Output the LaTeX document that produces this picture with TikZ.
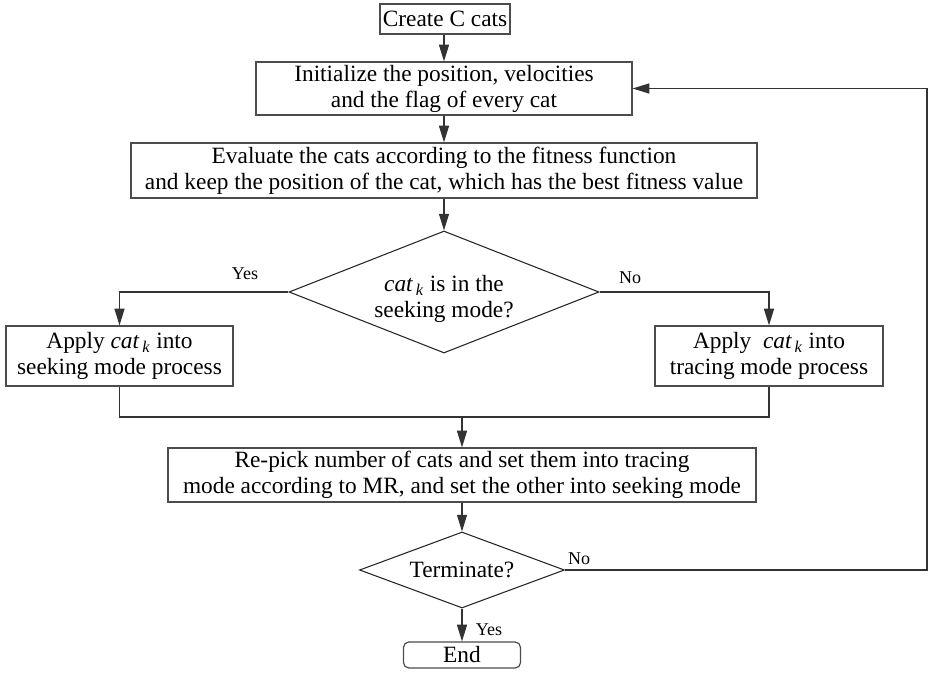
\documentclass[tikz,border=0pt]{standalone}
\usepackage{fontspec}
\setmainfont{Liberation Serif}
\usetikzlibrary{shapes.geometric,arrows.meta}
\newcommand{\catk}{\textit{cat}\textsubscript{\,\textit{k}}}
\begin{document}
\begin{tikzpicture}[x=0.75pt,y=-0.75pt,
  every node/.style={font=\fontsize{17.5}{19.5}\selectfont},
  box/.style={draw=black!70, line width=0.9pt, rectangle, inner sep=0pt, align=center},
  dia/.style={draw=black!85, line width=0.8pt, diamond, inner sep=0pt, align=center, aspect=2.5},
  conn/.style={draw=black!80, line width=0.9pt},
  arr/.style={conn, -{Triangle[length=12.5pt,width=7.5pt]}},
  lbl/.style={inner sep=0pt, font=\fontsize{13.5}{15}\selectfont}]
\useasboundingbox (0,0) rectangle (931,673);
\node[box, minimum width=97.5pt, minimum height=22.5pt] (create) at (445,19) {Create C cats};
\node[box, minimum width=282pt, minimum height=39.75pt] (init) at (444,88.5) {Initialize the position, velocities\\and the flag of every cat};
\node[box, minimum width=469.5pt, minimum height=41.25pt] (eval) at (444,170.5) {Evaluate the cats according to the fitness function\\and keep the position of the cat, which has the best fitness value};
\node[dia, minimum width=232.5pt, minimum height=91.5pt] (dec) at (444,292) {};
\node[align=center, inner sep=0pt] (dectext) at (444,299) {\catk{} is in the\\seeking mode?};
\node[box, minimum width=170.25pt, minimum height=45pt] (seek) at (119.5,356) {Apply \catk{} into\\seeking mode process};
\node[box, minimum width=171pt, minimum height=45pt] (trace) at (769,356) {Apply \ \catk{} into\\tracing mode process};
\node[box, minimum width=441pt, minimum height=40.5pt] (repick) at (462,475) {Re-pick number of cats and set them into tracing\\mode according to MR, and set the other into seeking mode};
\node[dia, minimum width=153.75pt, minimum height=57pt] (term) at (462,570) {Terminate?};
\node[box, rounded corners=4pt, minimum width=87.75pt, minimum height=19.5pt] (end) at (462,655) {End};
\coordinate (m) at (462,417);
\coordinate (fb1) at (927,570);
\coordinate (fb2) at (927,88.5);
\draw[arr] (create.south -| init.north) -- (init.north);
\draw[arr] (init) -- (eval);
\draw[arr] (eval) -- (dec);
\draw[arr] (dec.west) -| (seek.north);
\draw[arr] (dec.east) -| (trace.north);
\draw[conn] (seek.south) |- (m) -| (trace.south);
\draw[arr] (m) -- (repick.north);
\draw[arr] (repick) -- (term);
\draw[arr] (term) -- (end);
\draw[arr] (term.east) -- (fb1) -- (fb2) -- (init.east);
\node[lbl] (yes1) at (245,274) {Yes};
\node[lbl] (no1) at (630,278) {No};
\node[lbl] (no2) at (579,559) {No};
\node[lbl] (yes2) at (489,630) {Yes};
\end{tikzpicture}
\end{document}
